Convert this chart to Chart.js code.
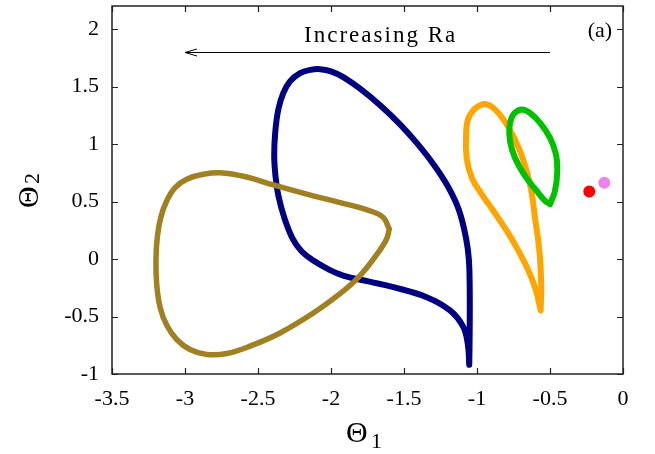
<!DOCTYPE html>
<html>
<head>
<meta charset="utf-8">
<script src="https://cdn.jsdelivr.net/npm/chart.js@4.4.1/dist/chart.umd.min.js"></script>
<style>
  html, body { margin: 0; padding: 0; background: #fff; }
  #wrap { width: 655px; height: 454px; }
</style>
</head>
<body>
<div id="wrap"><canvas id="chart_1"></canvas></div>
<script>
// axis ticks
const xTicks = [-3.5, -3, -2.5, -2, -1.5, -1, -0.5, 0];
const yTicks = [-1, -0.5, 0, 0.5, 1, 1.5, 2];

// navy orbit (cusp at the bottom)
const navyT1 = [-1.053, -1.050, -1.050, -1.056, -1.075, -1.125, -1.200, -1.299, -1.410, -1.527, -1.660, -1.801, -1.916, -2.000,
                -2.075, -2.140, -2.212, -2.281, -2.327, -2.361, -2.382, -2.389, -2.380, -2.360, -2.320, -2.260, -2.200, -2.121,
                -2.020, -1.916, -1.745, -1.573, -1.345, -1.185, -1.094, -1.062, -1.053];
const navyT2 = [-0.920, -0.600, -0.250, 0.000, 0.180, 0.430, 0.632, 0.825, 1.005, 1.171, 1.333, 1.481, 1.582, 1.632,
                1.651, 1.645, 1.617, 1.545, 1.443, 1.300, 1.100, 0.900, 0.720, 0.549, 0.360, 0.170, 0.065, -0.014,
                -0.088, -0.144, -0.195, -0.245, -0.332, -0.447, -0.591, -0.750, -0.920];

// olive orbit
const oliveT1 = [-1.601, -1.642, -1.733, -1.938, -2.166, -2.395, -2.577, -2.738, -2.875, -2.988, -3.068, -3.125, -3.166, -3.190,
                 -3.199, -3.194, -3.171, -3.125, -3.057, -2.966, -2.851, -2.714, -2.555, -2.349, -2.121, -1.938, -1.801,
                 -1.687, -1.619, -1.601];
const oliveT2 = [0.261, 0.361, 0.419, 0.491, 0.564, 0.644, 0.713, 0.748, 0.737, 0.694, 0.621, 0.506, 0.361, 0.188,
                 -0.014, -0.216, -0.418, -0.577, -0.700, -0.787, -0.830, -0.822, -0.758, -0.643, -0.470, -0.302, -0.144,
                 0.038, 0.174, 0.261];

// orange orbit
const orangeT1 = [-0.564, -0.596, -0.648, -0.717, -0.797, -0.888, -0.968, -1.036, -1.071, -1.075, -1.053, -0.968, -0.888,
                  -0.797, -0.705, -0.637, -0.603, -0.573, -0.560, -0.564];
const orangeT2 = [-0.447, -0.274, -0.100, 0.073, 0.246, 0.419, 0.564, 0.708, 0.880, 1.083, 1.242, 1.343, 1.313,
                  1.170, 0.938, 0.650, 0.361, 0.073, -0.216, -0.447];

// green orbit
const greenT1 = [-0.500, -0.466, -0.450, -0.459, -0.500, -0.568, -0.637, -0.694, -0.751, -0.777, -0.774, -0.740, -0.671, -0.591, -0.534, -0.500];
const greenT2 = [0.477, 0.592, 0.765, 0.910, 1.054, 1.184, 1.270, 1.300, 1.256, 1.155, 1.025, 0.880, 0.722, 0.592, 0.506, 0.477];

// fixed points
const redPt = [-0.231, 0.586];
const violetPt = [-0.128, 0.664];

const pts = (a, b) => a.map((v, i) => ({x: v, y: b[i]}));

const serif = '"Liberation Serif", "Times New Roman", serif';

const framePlugin = {
    id: 'frame',
    afterDraw(chart) {
        const {ctx, chartArea: a, scales: {x, y}} = chart;
        ctx.save();
        ctx.strokeStyle = '#222';
        ctx.lineWidth = 1.5;
        ctx.strokeRect(a.left, a.top, a.right - a.left, a.bottom - a.top);

        // inward ticks on all four sides
        ctx.beginPath();
        xTicks.forEach(v => {
            const px = Math.round(x.getPixelForValue(v)) + 0.5;
            ctx.moveTo(px, a.bottom); ctx.lineTo(px, a.bottom - 6);
            ctx.moveTo(px, a.top); ctx.lineTo(px, a.top + 6);
        });
        yTicks.forEach(v => {
            const py = Math.round(y.getPixelForValue(v)) + 0.5;
            ctx.moveTo(a.left, py); ctx.lineTo(a.left + 6, py);
            ctx.moveTo(a.right, py); ctx.lineTo(a.right - 6, py);
        });
        ctx.lineWidth = 1.2;
        ctx.stroke();

        // arrow
        const ay = Math.round(y.getPixelForValue(1.8)) + 0.5;
        const ax0 = x.getPixelForValue(-0.5), ax1 = x.getPixelForValue(-3);
        ctx.strokeStyle = '#000';
        ctx.lineWidth = 1;
        ctx.beginPath();
        ctx.moveTo(ax0, ay); ctx.lineTo(ax1, ay);
        ctx.moveTo(ax1 + 12, ay - 3.5); ctx.lineTo(ax1, ay); ctx.lineTo(ax1 + 12, ay + 3.5);
        ctx.stroke();

        ctx.fillStyle = '#000';
        ctx.textBaseline = 'alphabetic';
        ctx.font = '23px ' + serif;
        ctx.letterSpacing = '2px';
        ctx.textAlign = 'center';
        ctx.fillText('Increasing Ra', x.getPixelForValue(-1.66), y.getPixelForValue(1.89));
        ctx.letterSpacing = '0px';
        ctx.font = '22px ' + serif;
        ctx.textAlign = 'right';
        ctx.fillText('(a)', x.getPixelForValue(-0.075), y.getPixelForValue(1.93));

        // axis titles
        ctx.textAlign = 'left';
        ctx.font = '30px ' + serif;
        ctx.fillText('\u0398', 346, 442);
        ctx.font = '22px ' + serif;
        ctx.fillText('1', 371, 448);

        ctx.translate(38, 208);
        ctx.rotate(-Math.PI / 2);
        ctx.font = '30px ' + serif;
        ctx.fillText('\u0398', 0, 0);
        ctx.font = '22px ' + serif;
        ctx.fillText('2', 24, 1);
        ctx.restore();
    }
};

// orbits are drawn by the line controller so that tension is applied
const orbit = (data, color, width, order) => ({
    type: 'line',
    data: pts(...data),
    fill: false,
    tension: 0.4,
    borderColor: color,
    borderWidth: width,
    borderCapStyle: 'round',
    borderJoinStyle: 'round',
    pointRadius: 0,
    order: order
});

const dot = (p, color) => ({
    data: [{x: p[0], y: p[1]}],
    pointRadius: 6,
    pointBorderWidth: 0,
    backgroundColor: color,
    borderColor: color,
    order: 0
});

new Chart(document.getElementById('chart_1'), {
    type: 'scatter',
    data: {
        datasets: [
            orbit([navyT1, navyT2], '#000080', 6, 4),
            orbit([oliveT1, oliveT2], '#a08020', 5.5, 3),
            orbit([orangeT1, orangeT2], '#ffa500', 6, 2),
            orbit([greenT1, greenT2], '#00c000', 6, 1),
            dot(redPt, '#ff0000'),
            dot(violetPt, '#ee82ee')
        ]
    },
    options: {
        responsive: true,
        maintainAspectRatio: false,
        animation: false,
        layout: { padding: { top: 4, right: 32, left: 0, bottom: 0 } },
        plugins: {
            legend: { display: false },
            tooltip: { enabled: false }
        },
        scales: {
            x: {
                type: 'linear',
                min: -3.5,
                max: 0,
                afterBuildTicks: s => { s.ticks = xTicks.map(v => ({value: v})); },
                afterFit: s => { s.height = 80; s.paddingLeft = 0; s.paddingRight = 0; },
                grid: { display: false, drawTicks: false },
                border: { display: false },
                ticks: {
                    font: { family: serif, size: 22 },
                    color: '#000',
                    padding: 12,
                    maxRotation: 0,
                    autoSkip: false,
                    callback: v => String(v)
                }
            },
            y: {
                type: 'linear',
                min: -1,
                max: 2.2,
                afterBuildTicks: s => { s.ticks = yTicks.map(v => ({value: v})); },
                afterFit: s => { s.width = 112; s.paddingTop = 0; s.paddingBottom = 0; },
                grid: { display: false, drawTicks: false },
                border: { display: false },
                ticks: {
                    font: { family: serif, size: 22 },
                    color: '#000',
                    padding: 13,
                    autoSkip: false,
                    callback: v => String(v)
                }
            }
        }
    },
    plugins: [framePlugin]
});
</script>
</body>
</html>
